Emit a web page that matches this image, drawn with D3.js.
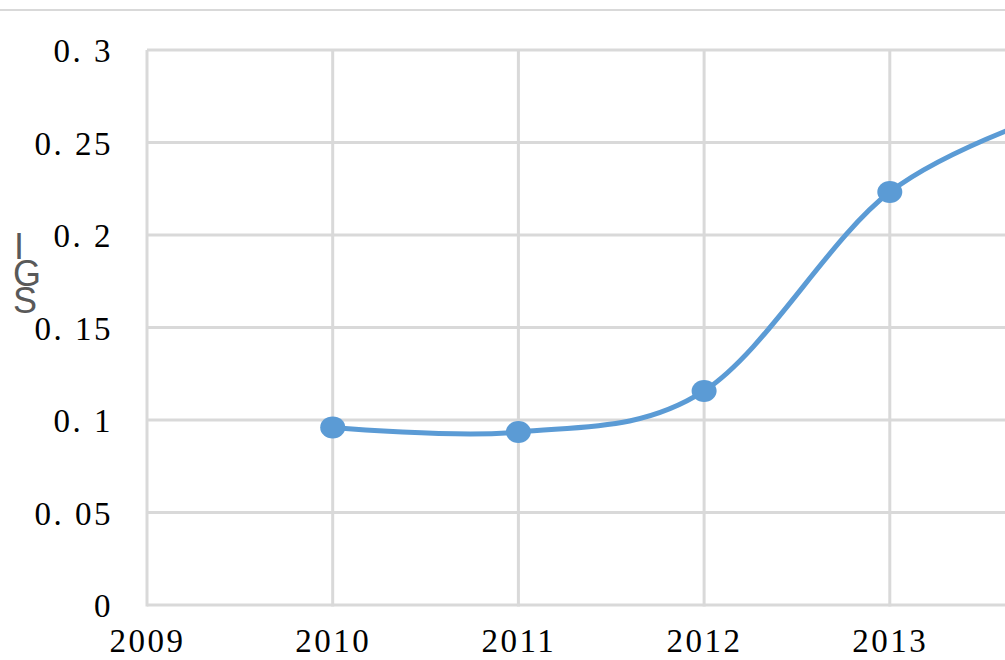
<!DOCTYPE html>
<html>
<head>
<meta charset="utf-8">
<script src="https://cdn.jsdelivr.net/npm/d3@7"></script>
<style>
  body { margin: 0; background: #fff; }
  svg { display: block; }
</style>
</head>
<body>
<div id="viz"></div>
<script>
const width = 1005;
const height = 660;
const margin = {top: 50, left: 147, bottom: 55};
const yearStep = 185.7; // horizontal space per year (chart is cropped on the right)

// Data
const years = [2010, 2011, 2012, 2013, 2014];
const sgiValues = [0.096, 0.0935, 0.1157, 0.2232, 0.27];
const xTicks = [2009, 2010, 2011, 2012, 2013, 2014, 2015];
const xTickLabels = [2009, 2010, 2011, 2012, 2013]; // the rest falls off the cropped edge
const yTicks = [0, 0.05, 0.1, 0.15, 0.2, 0.25, 0.3];
const yTickLabels = ['0', '0. 05', '0. 1', '0. 15', '0. 2', '0. 25', '0. 3'];
const yLabelLetters = ['I', 'G', 'S'];

const lineColor = '#5B9BD5';
const gridColor = '#d9d9d9';

const svg = d3.select('#viz')
  .append('svg')
    .attr('width', width)
    .attr('height', height);

// Scales
const xScale = d3.scaleLinear()
  .domain([2009, 2015])
  .range([margin.left, margin.left + 6 * yearStep]);
const yScale = d3.scaleLinear()
  .domain([0, 0.3])
  .range([height - margin.bottom, margin.top]);

// Outer chart border (only top edge visible)
svg.append('line')
  .attr('x1', 0).attr('x2', width)
  .attr('y1', 10).attr('y2', 10)
  .attr('stroke', gridColor)
  .attr('stroke-width', 2);

// Gridlines
const grid = svg.append('g').attr('class', 'grid')
  .attr('stroke', gridColor)
  .attr('stroke-width', 3);
grid.selectAll('.hgrid')
  .data(yTicks)
  .join('line')
    .attr('class', 'hgrid')
    .attr('x1', margin.left)
    .attr('x2', xScale(2015))
    .attr('y1', d => yScale(d))
    .attr('y2', d => yScale(d));
grid.selectAll('.vgrid')
  .data(xTicks)
  .join('line')
    .attr('class', 'vgrid')
    .attr('x1', d => xScale(d))
    .attr('x2', d => xScale(d))
    .attr('y1', yScale(0.3))
    .attr('y2', yScale(0) + 1.5);

// Y tick labels
const yAxis = d3.axisLeft(yScale)
  .tickValues(yTicks)
  .tickSize(0)
  .tickPadding(34)
  .tickFormat((d, i) => yTickLabels[i]);
const yAxisGroup = svg.append('g')
  .attr('transform', `translate(${margin.left}, 0)`)
  .call(yAxis);
yAxisGroup.select('.domain').remove();
yAxisGroup.selectAll('text')
  .attr('dy', '0.36em')
  .style('font-family', '"Liberation Serif", "DejaVu Serif", serif')
  .style('font-size', '33px')
  .style('letter-spacing', '2.5px')
  .attr('fill', '#000');

// X tick labels
const xAxis = d3.axisBottom(xScale)
  .tickValues(xTickLabels)
  .tickSize(0)
  .tickPadding(24)
  .tickFormat(d3.format('d'));
const xAxisGroup = svg.append('g')
  .attr('transform', `translate(0, ${yScale(0)})`)
  .call(xAxis);
xAxisGroup.select('.domain').remove();
xAxisGroup.selectAll('text')
  .style('font-family', '"Liberation Serif", "DejaVu Serif", serif')
  .style('font-size', '33px')
  .style('letter-spacing', '2.5px')
  .attr('fill', '#000');

// Y axis title: stacked letters
const yTitle = svg.append('text')
  .attr('fill', '#595959')
  .style('font-family', '"Liberation Sans", Arial, sans-serif')
  .style('font-size', '36px');
yTitle.selectAll('tspan')
  .data(yLabelLetters)
  .join('tspan')
    .attr('x', (d, i) => i === 0 ? 14 : 13)
    .attr('y', (d, i) => 259 + i * 27)
    .text(d => d);

// Smoothed line
const points = years.map((y, i) => [y, sgiValues[i]]);
const lineGenerator = d3.line()
  .x(d => xScale(d[0]))
  .y(d => yScale(d[1]))
  .curve(d3.curveCatmullRom.alpha(0));

svg.append('path')
  .attr('d', lineGenerator(points))
  .attr('fill', 'none')
  .attr('stroke', lineColor)
  .attr('stroke-width', 5)
  .attr('stroke-linecap', 'round');

// Markers
svg.append('g')
  .attr('fill', lineColor)
  .selectAll('ellipse')
  .data(points)
  .join('ellipse')
    .attr('cx', d => xScale(d[0]))
    .attr('cy', d => yScale(d[1]))
    .attr('rx', 12.5)
    .attr('ry', 11);
</script>
</body>
</html>
